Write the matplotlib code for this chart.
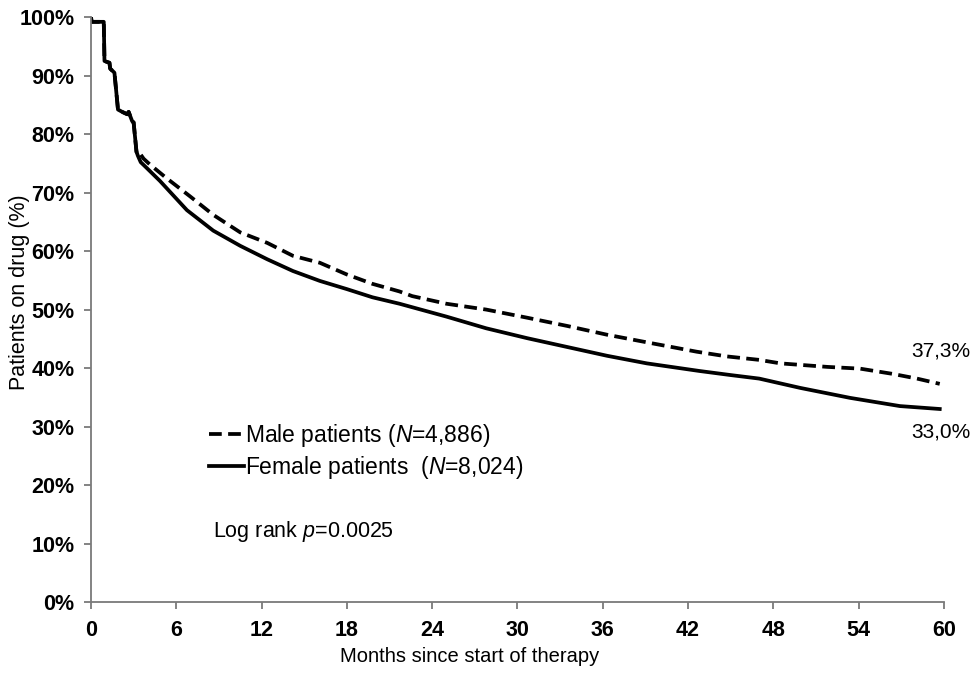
import matplotlib
matplotlib.use("Agg")
from matplotlib import pyplot as plt
from matplotlib.ticker import FuncFormatter

plt.rcParams['font.family'] = ['Liberation Sans', 'DejaVu Sans']
plt.rcParams['mathtext.fontset'] = 'custom'
plt.rcParams['mathtext.rm'] = 'Liberation Sans'
plt.rcParams['mathtext.it'] = 'Liberation Sans:italic'

# early part, both curves overlap
shared_months = [0, 0.05, 0.9, 0.95, 1.3, 1.35, 1.65, 1.75, 1.9, 2.2, 2.55, 2.65, 2.9, 3.0, 3.2, 3.3]
shared_pct = [100, 99.2, 99.2, 92.5, 92.2, 91.2, 90.5, 88.0, 84.2, 83.8, 83.4, 83.8, 82.2, 82.0, 77.0, 76.3]

male_months = [3.5, 3.7, 4.15, 5.3, 7.0, 8.6, 10.5, 12.4, 14.2, 16.1, 18.0, 19.8, 21.7, 22.6, 25.0,
               27.8, 30.7, 33.5, 36.3, 39.1, 42.6, 44.7, 47.0, 48.5, 51.8, 54.1, 56.4, 58.1, 59.7]
male_pct = [76.5, 75.8, 74.8, 72.5, 69.3, 66.2, 63.2, 61.4, 59.2, 58.0, 56.0, 54.4, 53.1, 52.3, 51.0,
            50.0, 48.6, 47.2, 45.7, 44.4, 42.8, 42.0, 41.4, 40.8, 40.2, 39.9, 39.0, 38.2, 37.3]

female_months = [3.5, 3.8, 4.85, 6.75, 8.6, 10.5, 12.4, 14.2, 16.1, 18.0, 19.8, 21.7, 22.6, 25.0,
                 27.8, 30.7, 33.5, 36.3, 39.1, 42.8, 45.0, 47.0, 49.9, 53.4, 56.9, 59.7]
female_pct = [75.2, 74.5, 72.0, 67.0, 63.5, 60.9, 58.6, 56.6, 54.9, 53.5, 52.1, 51.0, 50.4, 48.8,
              46.8, 45.1, 43.6, 42.1, 40.8, 39.5, 38.8, 38.2, 36.6, 34.9, 33.5, 33.0]

x_ticks = list(range(0, 61, 6))
y_ticks = list(range(0, 101, 10))

male_label = r"Male patients ($\it{N}$=4,886)"
female_label = r"Female patients  ($\it{N}$=8,024)"
end_labels = ["37,3%", "33,0%"]

fig = plt.figure(figsize=(9.74, 6.73), dpi=100)
ax = fig.add_axes([0.0934, 0.1055, 0.8758, 0.869])

axis_grey = '#7a7a7a'

ln_m, = ax.plot(shared_months + male_months, shared_pct + male_pct, color='black', lw=2.7,
                dashes=(3.4, 1.7), dash_capstyle='butt', label=male_label)
ln_f, = ax.plot(shared_months + female_months, shared_pct + female_pct, color='black', lw=2.7,
                label=female_label)

ax.set_xlim(0, 60)
ax.set_ylim(0, 100)
ax.set_xticks(x_ticks)
ax.set_yticks(y_ticks)
ax.yaxis.set_major_formatter(FuncFormatter(lambda v, p: "%d%%" % v))

for s in ['top', 'right']:
    ax.spines[s].set_visible(False)
for s in ['left', 'bottom']:
    ax.spines[s].set_color(axis_grey)
    ax.spines[s].set_linewidth(1.3)

ax.tick_params(axis='both', direction='out', color=axis_grey, width=1.3, length=5)
ax.tick_params(axis='x', pad=8, labelsize=15.5)
ax.tick_params(axis='y', pad=7, labelsize=15.5)
for lab in ax.get_xticklabels() + ax.get_yticklabels():
    lab.set_fontweight('bold')

ax.set_xlabel("Months since start of therapy", fontsize=14.5)
ax.xaxis.set_label_coords(0.444, -0.077)
ax.set_ylabel("Patients on drug (%)", fontsize=15.5)
ax.yaxis.set_label_coords(-0.072, 0.53)

ax.legend(handles=[ln_m, ln_f], loc='upper left', bbox_to_anchor=(0.138, 0.307), frameon=False,
          fontsize=16.5, handlelength=1.55, handletextpad=0.05, labelspacing=0.22,
          borderpad=0, borderaxespad=0)

ax.text(0.143, 0.12, r"Log rank $\it{p}$=0.0025", transform=ax.transAxes, fontsize=15.5,
        va='center', ha='left')

ax.text(57.7, 43.0, end_labels[0], fontsize=15, va='center', ha='left')
ax.text(57.7, 29.0, end_labels[1], fontsize=15, va='center', ha='left')

fig.savefig("out.png", dpi=100)
